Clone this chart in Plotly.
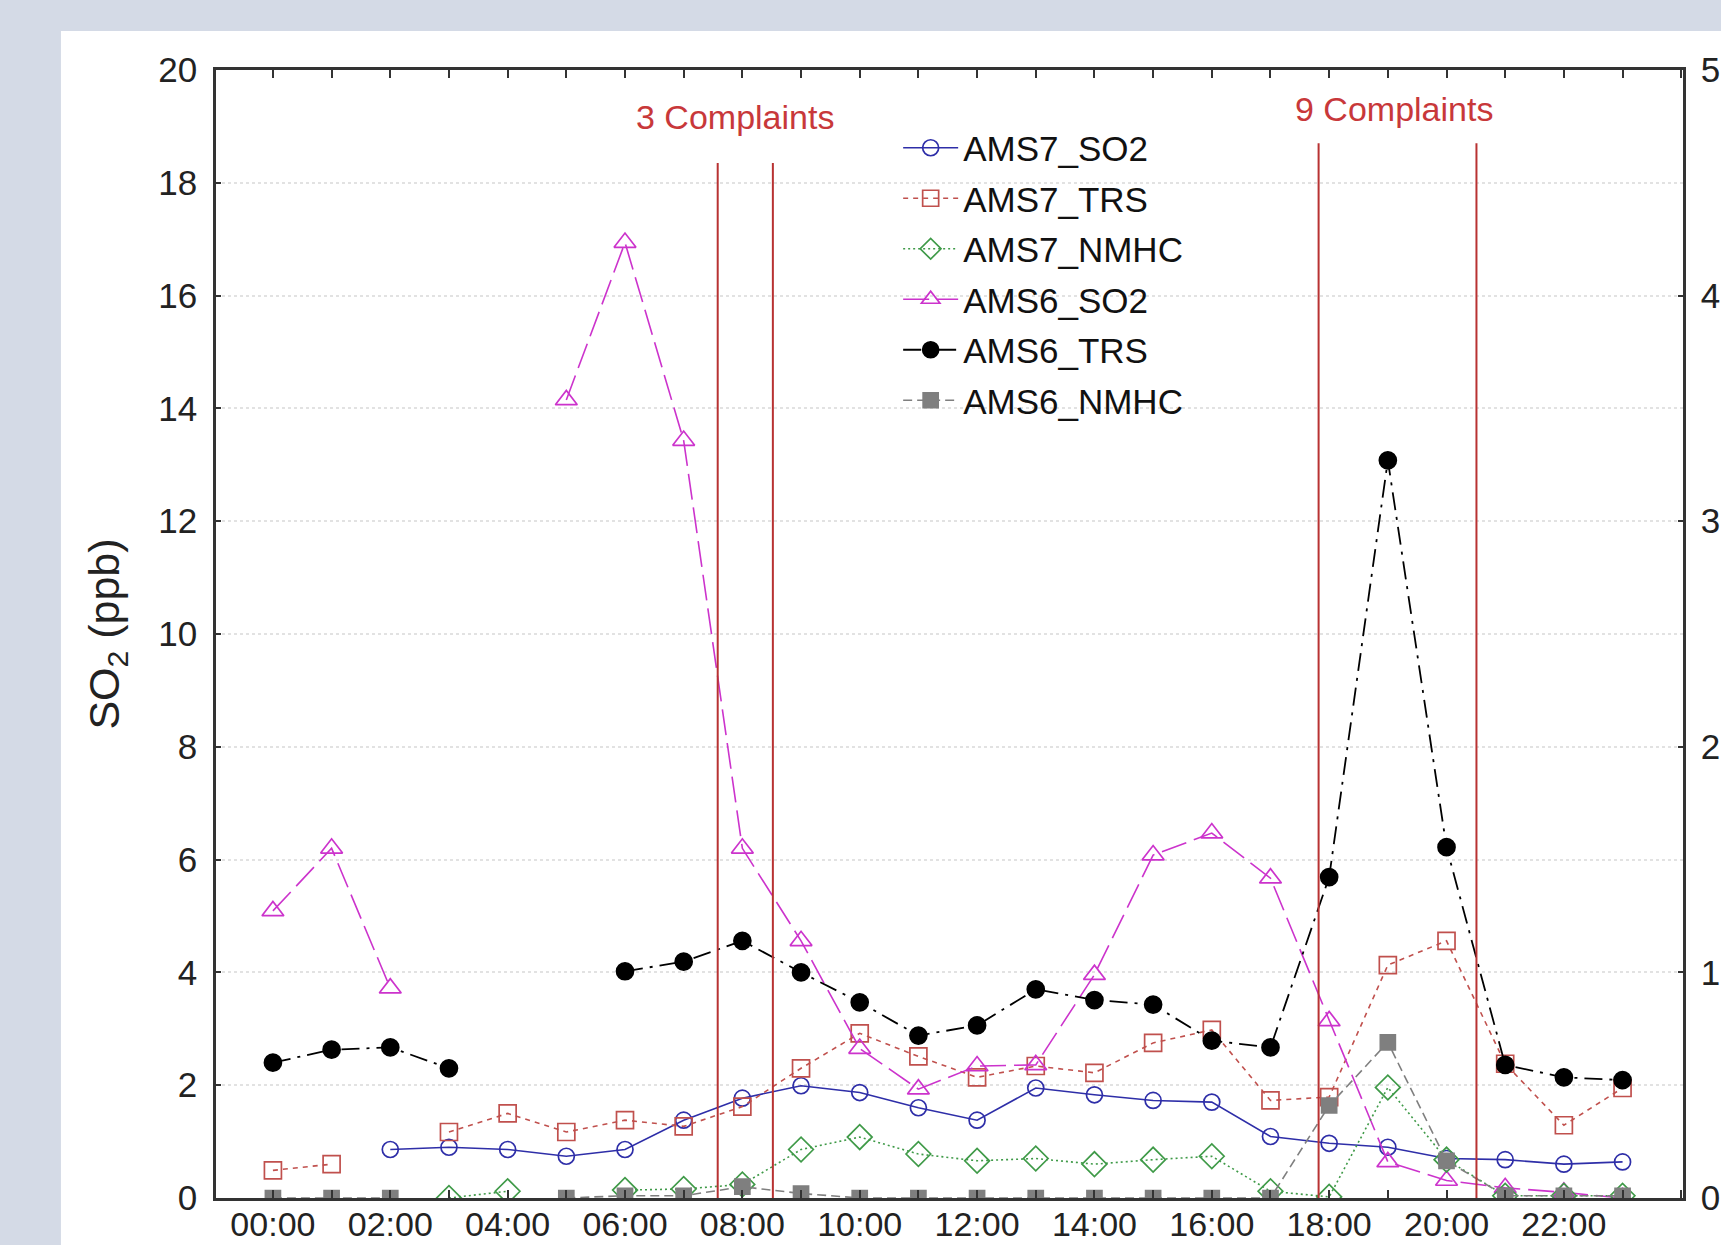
import plotly.graph_objects as go

# ---------------- data ----------------
hours = list(range(24))
tick_hours = list(range(0, 24, 2))
tick_labels = ["%02d:00" % h for h in tick_hours]

# left axis (ppb)
AMS7_SO2 = [None, None, 0.86, 0.90, 0.86, 0.74, 0.86, 1.38, 1.77, 1.99, 1.87, 1.60,
            1.38, 1.95, 1.83, 1.73, 1.70, 1.09, 0.97, 0.90, 0.70, 0.68, 0.60, 0.64]
AMS7_TRS = [0.49, 0.60, None, 1.17, 1.50, 1.17, 1.38, 1.27, 1.62, 2.30, 2.92, 2.51,
            2.14, 2.34, 2.22, 2.75, 2.98, 1.73, 1.79, 4.13, 4.56, 2.38, 1.29, 1.95]
AMS6_SO2 = [5.09, 6.20, 3.72, None, None, 14.15, 16.94, 13.43, 6.20, 4.56, 2.65, 1.93,
            2.34, 2.36, 3.96, 6.08, 6.47, 5.67, 3.14, 0.64, 0.31, 0.18, 0.10, 0.00]
AMS6_TRS = [2.40, 2.63, 2.67, 2.30, None, None, 4.02, 4.19, 4.56, 4.00, 3.47, 2.88,
            3.06, 3.70, 3.51, 3.43, 2.79, 2.67, 5.69, 13.08, 6.22, 2.36, 2.14, 2.09]
# right axis (0-5)
AMS7_NMHC = [None, None, None, 0.00, 0.03, None, 0.035, 0.04, 0.06, 0.215, 0.27, 0.195,
             0.165, 0.175, 0.15, 0.17, 0.185, 0.03, 0.005, 0.49, 0.17, 0.01, 0.01, 0.01]
AMS6_NMHC = [0.0, 0.0, 0.0, None, None, 0.0, 0.01, 0.01, 0.05, 0.02, 0.0, 0.0,
             0.0, 0.0, 0.0, 0.0, 0.0, 0.0, 0.41, 0.69, 0.165, 0.01, 0.01, 0.01]

complaint_lines_x = [7.58, 8.52, 17.82, 20.51]
complaint_lines_top = [18.35, 18.35, 18.7, 18.7]
complaint_text = ["3 Complaints", "9 Complaints"]
complaint_text_x = [7.88, 19.1]
complaint_text_y = [19.17, 19.3]

FONT = "Liberation Sans, Arial, sans-serif"

fig = go.Figure()

def add(name, y, color, symbol, dash, size, yaxis="y", lw=1.6, mlw=1.7, mcolor=None):
    fig.add_trace(go.Scatter(
        x=hours, y=y, name=name, mode="lines+markers", yaxis=yaxis,
        legendgroup=name,
        line=dict(color=color, width=lw, dash=dash),
        marker=dict(symbol=symbol, size=size, color=mcolor or color,
                    line=dict(color=color, width=mlw)),
    ))

add("AMS7_SO2", AMS7_SO2, "#2e2ea8", "circle-open", "solid", 16)
add("AMS7_TRS", AMS7_TRS, "#c0504d", "square-open", "5px,5px", 17)
add("AMS7_NMHC", AMS7_NMHC, "#3f9a48", "diamond-open", "2px,3px", 19, yaxis="y2")
add("AMS6_SO2", AMS6_SO2, "#cc33cc", "triangle-up-open", "26px,8px", 19)
add("AMS6_TRS", AMS6_TRS, "#000000", "circle", "18px,7px,3px,7px", 17, lw=1.8)
add("AMS6_NMHC", AMS6_NMHC, "#7f7f7f", "square", "9px,5px", 15, yaxis="y2")

shapes = []
# outer grey frame bands (paper coordinates)
shapes.append(dict(type="rect", xref="paper", yref="paper", x0=-0.16, x1=-0.1057,
                   y0=-0.06, y1=1.07, fillcolor="#d4dae6", line=dict(width=0), layer="below"))
shapes.append(dict(type="rect", xref="paper", yref="paper", x0=-0.16, x1=1.05,
                   y0=1.0346, y1=1.07, fillcolor="#d4dae6", line=dict(width=0), layer="below"))
for xv, top in zip(complaint_lines_x, complaint_lines_top):
    shapes.append(dict(type="line", xref="x", yref="y", x0=xv, x1=xv, y0=0, y1=top,
                       line=dict(color="#b83232", width=2)))

annotations = []
for t, xv, yv in zip(complaint_text, complaint_text_x, complaint_text_y):
    annotations.append(dict(text=t, x=xv, y=yv, xref="x", yref="y", showarrow=False,
                            font=dict(family=FONT, size=34, color="#c8383a")))

fig.update_layout(
    width=1721, height=1245,
    margin=dict(l=216, r=38, t=70, b=47, autoexpand=False),
    paper_bgcolor="white", plot_bgcolor="white",
    font=dict(family=FONT, color="#222222"),
    shapes=shapes, annotations=annotations,
    legend=dict(x=0.465, y=0.957, xanchor="left", yanchor="top",
                bgcolor="rgba(0,0,0,0)", font=dict(size=35, color="#111111", family=FONT),
                itemwidth=55, tracegroupgap=2),
    xaxis=dict(range=[-0.97, 24.03], tickvals=tick_hours, ticktext=tick_labels,
               ticks="inside", ticklen=8, tickwidth=1.5, tickcolor="#333",
               minor=dict(dtick=1, tick0=0, ticks="inside", ticklen=8, tickwidth=1.5,
                          tickcolor="#333", showgrid=False),
               showline=True, linecolor="#333", linewidth=2.5, mirror="allticks",
               showgrid=False, zeroline=False, ticklabelstandoff=-6, automargin=False,
               tickfont=dict(size=34, family=FONT, color="#222")),
    yaxis=dict(range=[0, 20], dtick=2, ticks="inside", ticklen=5, tickwidth=1.5,
               tickcolor="#333", showline=True, linecolor="#333", linewidth=2.5,
               mirror=True, showgrid=True, gridcolor="#e2e2e2", gridwidth=1.5,
               griddash="dot", zeroline=False, ticklabelstandoff=9, automargin=False,
               title=dict(text="SO<sub>2</sub> (ppb)", font=dict(size=43, family=FONT, color="#222"),
                          standoff=26),
               tickfont=dict(size=35, family=FONT, color="#222")),
    yaxis2=dict(range=[0, 5], dtick=1, overlaying="y", side="right", ticks="inside",
                ticklen=5, tickwidth=1.5, tickcolor="#333", showline=True,
                linecolor="#333", linewidth=2.5, showgrid=False, zeroline=False,
                ticklabelstandoff=8, automargin=False,
                tickfont=dict(size=35, family=FONT, color="#222")),
)

fig.write_html("out.html", config={"displayModeBar": False},
               post_script="document.body.style.margin='0';document.body.style.overflow='hidden';")
